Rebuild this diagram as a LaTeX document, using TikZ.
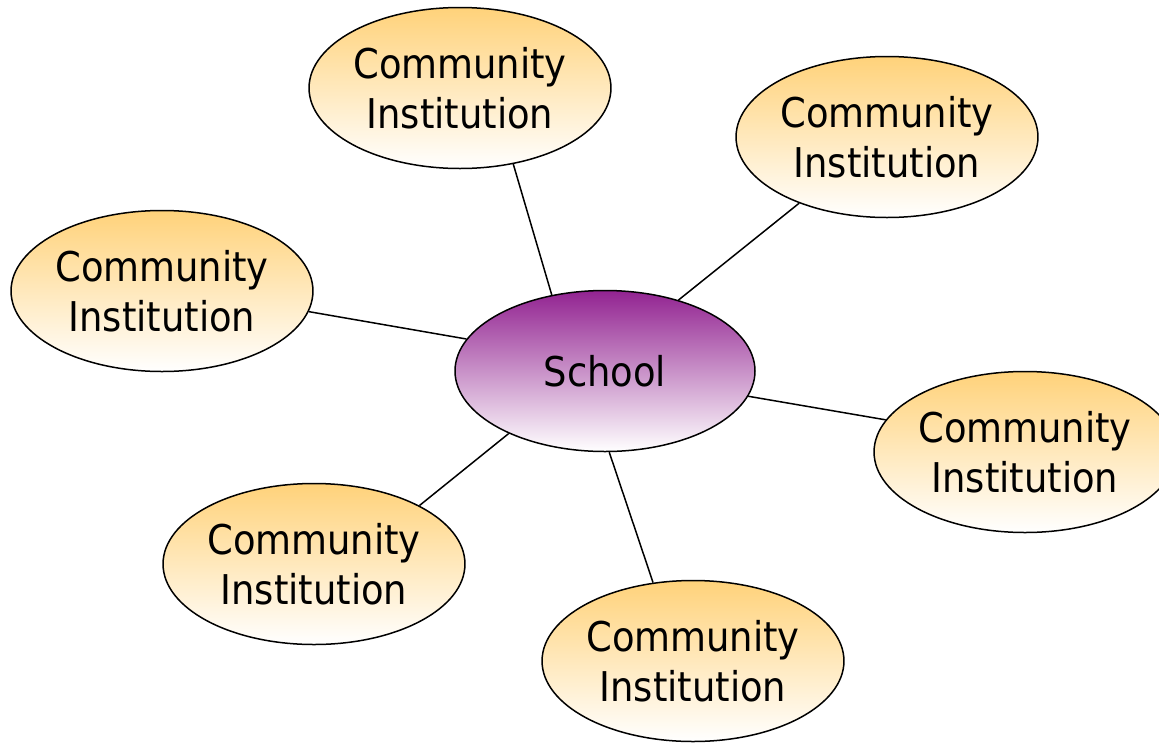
\documentclass[tikz,border=0pt]{standalone}
\usepackage{fontspec}
\setmainfont{DejaVu Sans Condensed}
\usetikzlibrary{shapes.geometric}
\definecolor{instTop}{HTML}{FFD27A}
\definecolor{schoolTop}{HTML}{922391}
\tikzset{
  x=1pt, y=-1pt,
  blob/.style={ellipse, draw=black, line width=1.5pt, minimum width=300pt, minimum height=161pt,
    inner sep=0pt, align=center, font=\fontsize{41}{50}\selectfont},
  inst/.style={blob, top color=instTop, bottom color=white},
  school/.style={blob, top color=schoolTop, bottom color=white},
  link/.style={line width=1.5pt, draw=black}
}
\begin{document}
\begin{tikzpicture}
\useasboundingbox (0,0) rectangle (1159,742);
\node[school] (s) at (605,371) {School};
\node[inst] (t) at (460,88) {Community\\Institution};
\node[inst] (tr) at (887,137) {Community\\Institution};
\node[inst] (l) at (162,291) {Community\\Institution};
\node[inst] (r) at (1025,452) {Community\\Institution};
\node[inst] (bl) at (314,564) {Community\\Institution};
\node[inst] (b) at (693,661) {Community\\Institution};
\draw[link] (s.125.8) -- (t.-55.8);
\draw[link] (s.44.2) -- (tr.217.2);
\draw[link] (s.167.4) -- (l.-8.2);
\draw[link] (s.-10.3) -- (r.167.1);
\draw[link] (s.213) -- (bl.29.2);
\draw[link] (s.-87.2) -- (b.117.7);
\end{tikzpicture}
\end{document}
